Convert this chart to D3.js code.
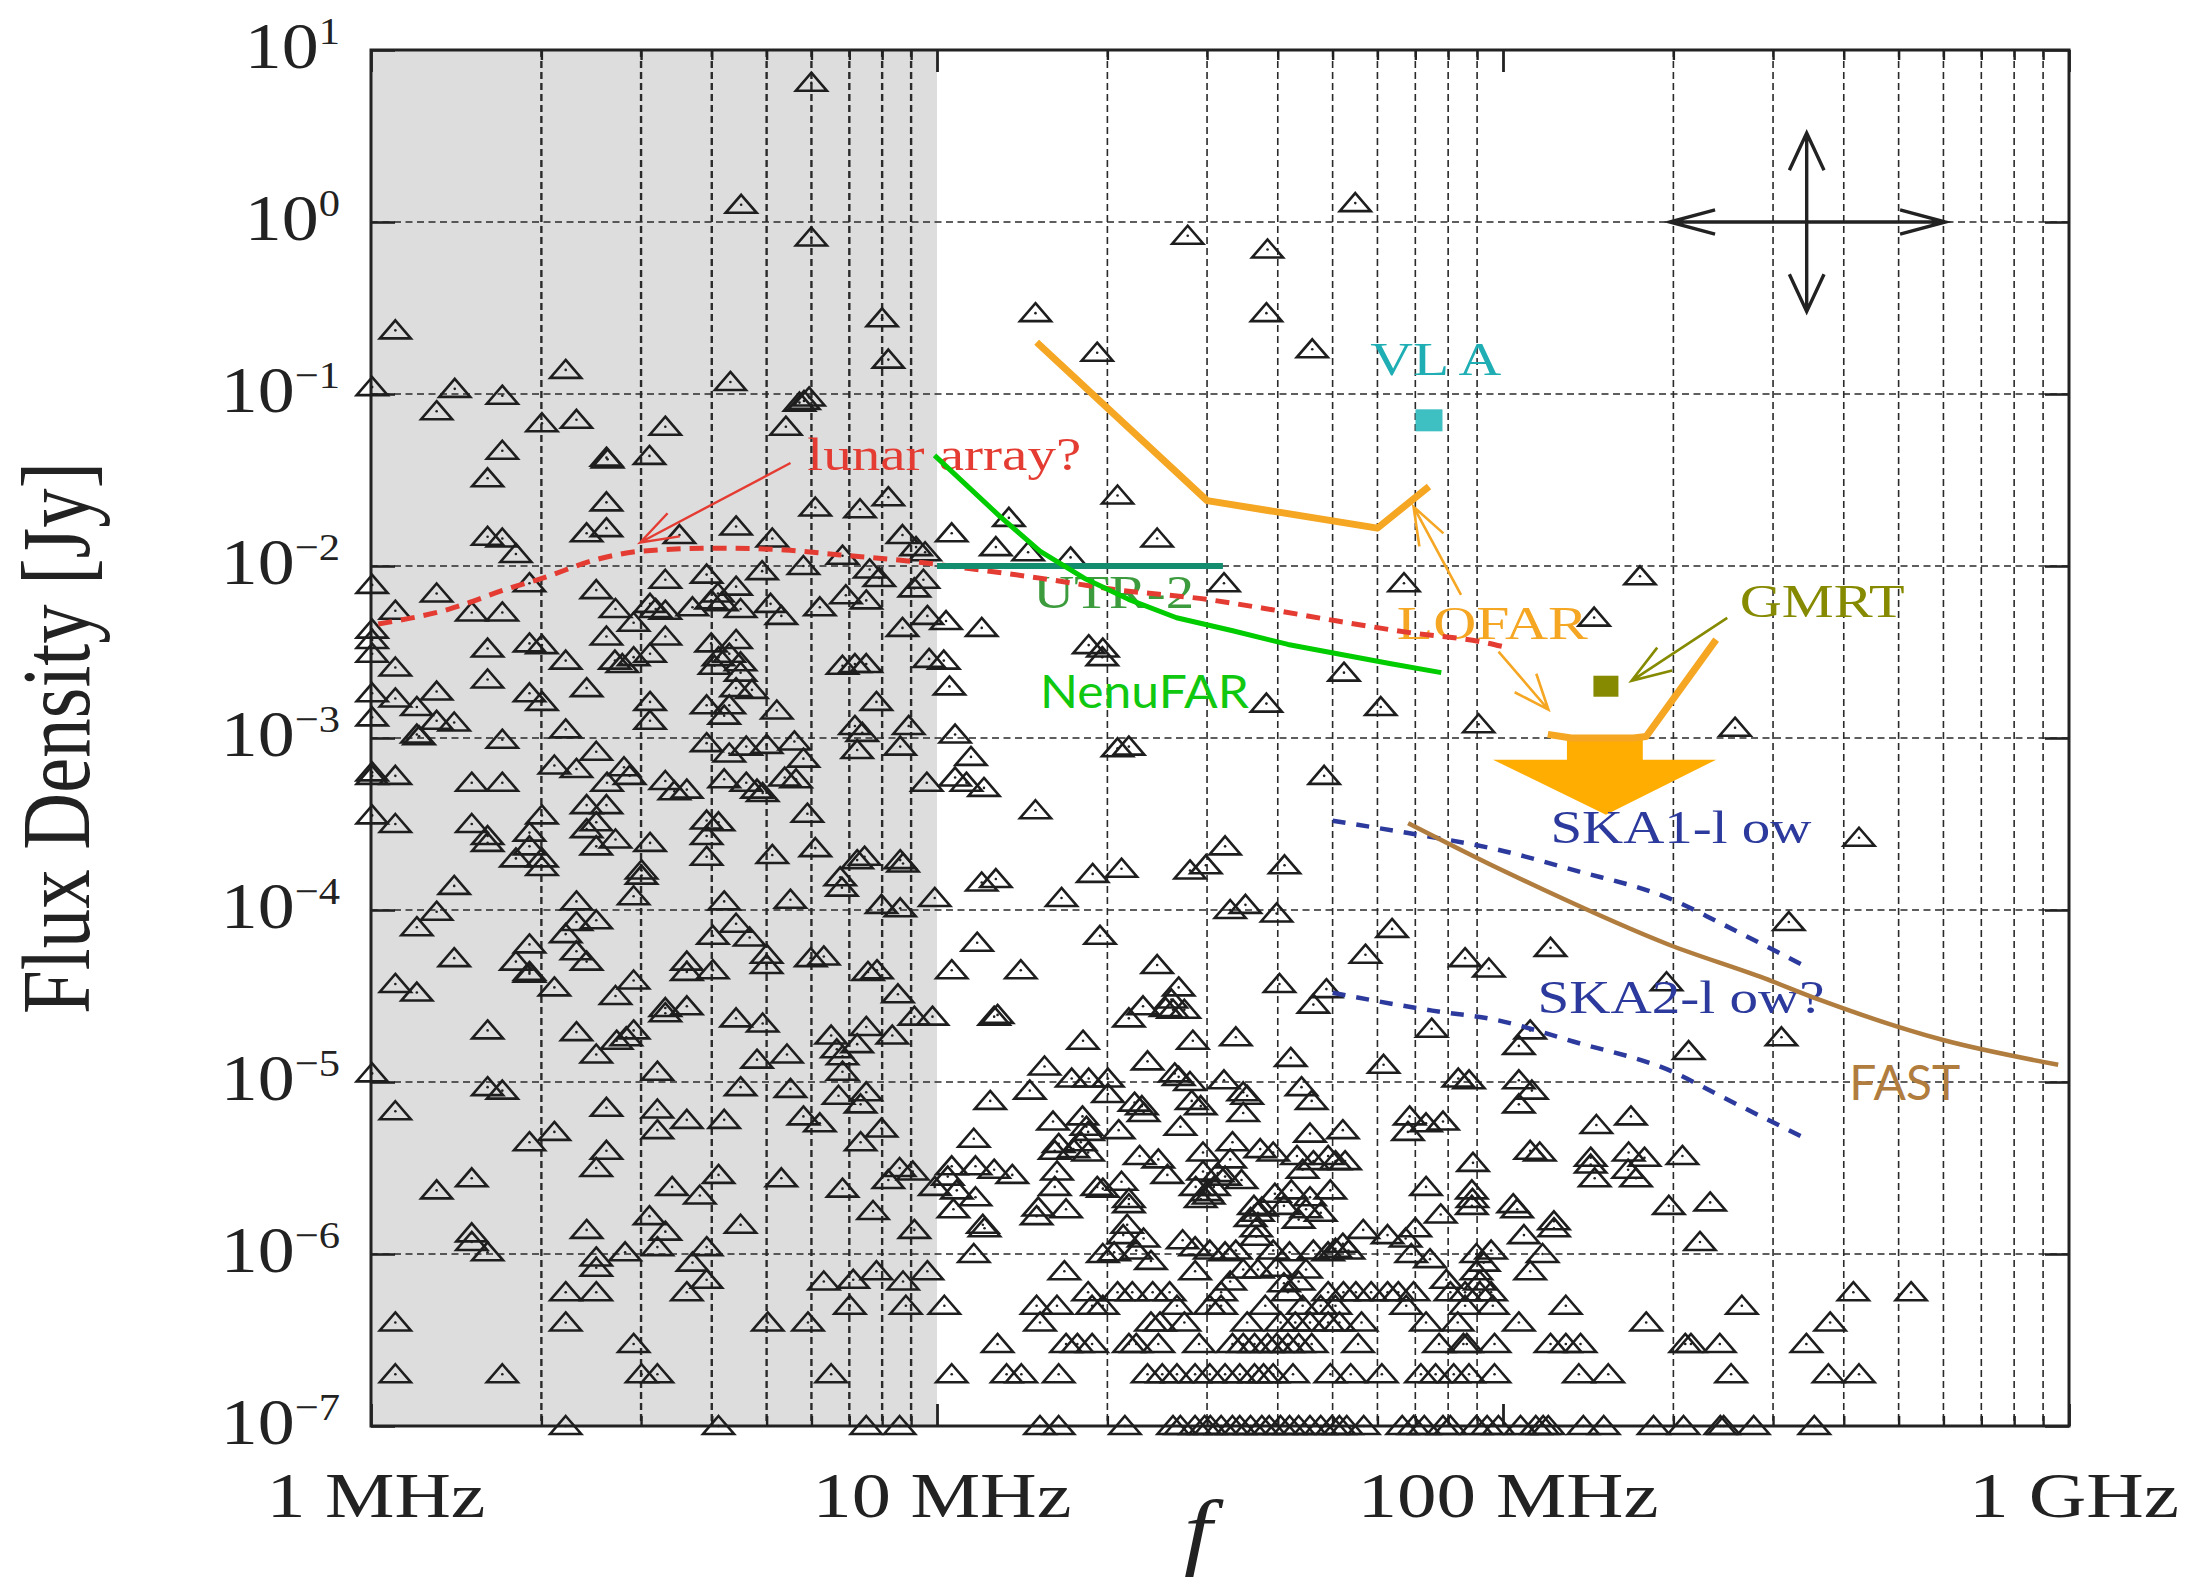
<!DOCTYPE html>
<html>
<head>
<meta charset="utf-8">
<title>Flux density vs frequency</title>
<script src="https://cdn.jsdelivr.net/npm/d3@7/dist/d3.min.js"></script>
<style>
  html, body { margin: 0; padding: 0; background: #fff; }
  svg { display: block; }
</style>
</head>
<body>
<svg id="chart" width="2194" height="1578"></svg>
<script>
// ---------------------------------------------------------------------------
// Source catalogue, each entry [log10(f / MHz), log10(S / Jy)]
// ---------------------------------------------------------------------------
const sourcesLowBand = [ // 1 - 10 MHz
  [0.778,0.81],[0.654,0.10],[0.778,-0.09],[0.043,-0.63],[0.903,-0.56],[0.914,-0.80],[0.344,-0.86],[0.002,-0.96],
  [0.148,-0.97],[0.232,-1.01],[0.116,-1.10],[0.635,-0.93],[0.757,-1.05],[0.774,-1.02],[0.765,-1.04],[0.733,-1.19],
  [0.302,-1.17],[0.363,-1.15],[0.520,-1.19],[0.232,-1.33],[0.206,-1.49],[0.416,-1.37],[0.418,-1.38],[0.492,-1.36],
  [0.416,-1.63],[0.785,-1.66],[0.864,-1.67],[0.914,-1.60],
  [0.206,-1.83],[0.232,-1.84],[0.256,-1.93],[0.381,-1.81],[0.416,-1.78],[0.545,-1.82],[0.645,-1.77],[0.709,-1.84],
  [0.939,-1.82],[0.963,-1.89],[0.979,-1.92],[0.764,-2.00],[0.833,-1.94],[0.881,-2.02],[0.898,-2.07],[0.691,-2.03],
  [0.593,-2.05],[0.520,-2.08],[0.280,-2.10],[0.116,-2.16],[0.002,-2.11],[0.043,-2.26],[0.178,-2.27],[0.232,-2.27],
  [0.398,-2.14],[0.432,-2.25],[0.493,-2.22],[0.503,-2.25],[0.520,-2.26],[0.464,-2.33],[0.568,-2.24],[0.613,-2.16],
  [0.645,-2.12],[0.620,-2.21],[0.653,-2.25],[0.601,-2.20],[0.706,-2.22],[0.725,-2.29],[0.793,-2.24],[0.839,-2.17],
  [0.875,-2.20],[0.960,-2.13],[0.976,-2.08],[0.983,-2.29],[0.939,-2.36],
  [0.002,-2.37],[0.002,-2.43],[0.002,-2.51],[0.043,-2.59],[0.206,-2.48],[0.280,-2.45],[0.302,-2.46],[0.344,-2.55],
  [0.416,-2.41],[0.520,-2.41],[0.493,-2.51],[0.431,-2.55],[0.444,-2.57],[0.464,-2.53],[0.601,-2.45],[0.645,-2.43],
  [0.614,-2.53],[0.633,-2.51],[0.653,-2.56],[0.607,-2.58],[0.653,-2.62],[0.833,-2.58],[0.855,-2.57],[0.875,-2.57],
  [0.986,-2.54],
  [0.002,-2.74],[0.043,-2.77],[0.081,-2.82],[0.116,-2.73],[0.116,-2.90],[0.147,-2.91],[0.081,-2.98],[0.085,-2.99],
  [0.002,-2.88],[0.206,-2.66],[0.280,-2.74],[0.302,-2.79],[0.381,-2.71],[0.344,-2.95],[0.232,-3.01],[0.493,-2.79],
  [0.493,-2.90],[0.593,-2.81],[0.633,-2.81],[0.624,-2.87],[0.645,-2.71],[0.673,-2.72],[0.717,-2.84],[0.893,-2.79],
  [0.855,-2.93],[0.868,-2.97],[0.950,-2.93],
  [0.593,-3.03],[0.633,-3.09],[0.663,-3.05],[0.699,-3.04],[0.748,-3.02],[0.764,-3.12],[0.859,-3.07],[0.935,-3.05],
  [0.002,-3.20],[0.002,-3.22],[0.043,-3.22],[0.178,-3.26],[0.232,-3.26],[0.324,-3.16],[0.363,-3.18],[0.398,-3.08],
  [0.447,-3.17],[0.457,-3.22],[0.417,-3.26],[0.520,-3.25],[0.536,-3.31],[0.558,-3.30],[0.624,-3.24],[0.663,-3.26],
  [0.692,-3.32],[0.682,-3.30],[0.731,-3.23],[0.751,-3.24],[0.982,-3.26],
  [0.002,-3.45],[0.043,-3.50],[0.178,-3.50],[0.206,-3.57],[0.206,-3.61],[0.302,-3.45],[0.280,-3.55],[0.280,-3.63],
  [0.256,-3.70],[0.302,-3.70],[0.302,-3.75],[0.381,-3.39],[0.416,-3.39],[0.398,-3.49],[0.381,-3.53],[0.432,-3.59],
  [0.398,-3.63],[0.493,-3.61],[0.478,-3.77],[0.478,-3.80],[0.464,-3.92],[0.593,-3.48],[0.614,-3.49],[0.593,-3.57],
  [0.593,-3.69],[0.709,-3.68],[0.771,-3.44],[0.785,-3.64],[0.859,-3.71],[0.872,-3.69],[0.829,-3.81],[0.832,-3.87],
  [0.935,-3.71],[0.940,-3.73],
  [0.147,-3.86],[0.116,-4.01],[0.081,-4.10],[0.363,-3.95],[0.363,-4.07],[0.398,-4.06],[0.344,-4.14],[0.363,-4.24],
  [0.381,-4.30],[0.280,-4.20],[0.256,-4.30],[0.280,-4.36],[0.147,-4.28],[0.624,-3.95],[0.645,-4.08],[0.604,-4.15],
  [0.669,-4.16],[0.699,-4.26],[0.699,-4.32],[0.558,-4.30],[0.558,-4.36],[0.604,-4.35],[0.741,-3.94],[0.902,-3.97],
  [0.935,-3.99],[0.996,-3.93],[0.777,-4.28],[0.800,-4.27],[0.878,-4.36],[0.894,-4.35],
  [0.043,-4.43],[0.081,-4.48],[0.280,-4.37],[0.324,-4.45],[0.464,-4.41],[0.432,-4.50],[0.520,-4.57],[0.520,-4.60],
  [0.558,-4.56],[0.645,-4.63],[0.692,-4.66],[0.931,-4.49],[0.960,-4.62],[0.992,-4.62],[0.206,-4.70],[0.363,-4.71],
  [0.398,-4.84],[0.434,-4.76],[0.451,-4.74],[0.464,-4.70],[0.506,-4.94],[0.682,-4.87],[0.735,-4.84],[0.813,-4.73],
  [0.823,-4.81],[0.833,-4.85],[0.833,-4.94],[0.859,-4.78],[0.875,-4.68],[0.921,-4.73],
  [0.002,-4.95],[0.206,-5.03],[0.232,-5.05],[0.043,-5.17],[0.653,-5.03],[0.741,-5.04],[0.826,-5.08],[0.865,-5.13],
  [0.875,-5.06],[0.416,-5.15],[0.506,-5.16],[0.506,-5.28],[0.558,-5.22],[0.624,-5.22],[0.764,-5.20],[0.793,-5.24],
  [0.902,-5.27],[0.280,-5.35],[0.324,-5.29],[0.416,-5.40],[0.398,-5.50],[0.865,-5.35],
  [0.116,-5.63],[0.178,-5.56],[0.532,-5.61],[0.581,-5.66],[0.614,-5.54],[0.725,-5.56],[0.833,-5.62],[0.914,-5.57],
  [0.934,-5.50],[0.957,-5.52],[0.996,-5.61],[0.887,-5.75],[0.492,-5.78],[0.520,-5.87],[0.506,-5.96],[0.381,-5.86],
  [0.653,-5.83],[0.960,-5.86],[0.178,-5.88],[0.178,-5.93],[0.206,-5.99],[0.449,-5.99],[0.398,-6.02],[0.398,-6.08],
  [0.593,-5.96],[0.568,-6.05],[0.593,-6.15],[0.800,-6.16],[0.852,-6.15],[0.893,-6.10],[0.940,-6.16],[0.983,-6.10]
];

const sourcesMidBand = [ // 10 - 100 MHz
  [1.739,0.11],[1.443,-0.08],[1.584,-0.16],[1.174,-0.53],[1.582,-0.53],[1.283,-0.76],[1.663,-0.74],[1.319,-1.59],
  [1.127,-1.72],[1.026,-1.81],[1.104,-1.89],[1.161,-1.92],[1.236,-1.95],[1.389,-1.84],[1.507,-2.10],[1.825,-2.10],
  [1.016,-2.32],[1.079,-2.36],[1.268,-2.46],[1.293,-2.48],[1.292,-2.53],[1.012,-2.55],[1.719,-2.62],[1.022,-2.70],
  [1.582,-2.80],[1.784,-2.82],[1.957,-2.92],[1.032,-2.98],[1.319,-3.06],[1.339,-3.05],[1.060,-3.11],[1.032,-3.23],
  [1.052,-3.26],[1.083,-3.29],[1.174,-3.42],[1.684,-3.22],[1.509,-3.63],[1.475,-3.74],[1.447,-3.77],[1.614,-3.74],
  [1.275,-3.79],[1.326,-3.76],[1.104,-3.82],[1.079,-3.84],[1.220,-3.93],[1.545,-3.97],[1.518,-4.00],[1.600,-4.02],
  [1.804,-4.11],[1.071,-4.19],[1.288,-4.15],[1.757,-4.26],[1.026,-4.35],[1.148,-4.35],[1.389,-4.32],[1.933,-4.28],
  [1.975,-4.34],
  [1.427,-4.45],[1.414,-4.52],[1.417,-4.58],[1.437,-4.58],[1.404,-4.57],[1.364,-4.56],[1.339,-4.63],[1.605,-4.43],
  [1.688,-4.46],[1.665,-4.55],[1.101,-4.62],[1.107,-4.61],[1.874,-4.69],[1.258,-4.76],[1.452,-4.76],[1.528,-4.74],
  [1.372,-4.88],[1.625,-4.86],[1.789,-4.90],[1.190,-4.91],[1.238,-4.98],[1.268,-4.98],[1.302,-4.98],[1.164,-5.05],
  [1.420,-4.95],[1.427,-4.97],[1.447,-5.00],[1.507,-4.99],[1.644,-5.03],[1.921,-4.98],[1.940,-4.99],[1.094,-5.11],
  [1.302,-5.07],[1.349,-5.12],[1.362,-5.14],[1.365,-5.18],[1.450,-5.11],[1.466,-5.14],[1.541,-5.06],[1.548,-5.08],
  [1.541,-5.18],[1.662,-5.11],[1.835,-5.20],[1.864,-5.24],[1.894,-5.23],[1.832,-5.29],[1.205,-5.23],[1.257,-5.20],
  [1.264,-5.26],[1.267,-5.29],[1.321,-5.28],[1.430,-5.26],[1.659,-5.30],[1.717,-5.28],[1.065,-5.33],[1.215,-5.36],
  [1.208,-5.40],[1.254,-5.35],[1.267,-5.41],[1.241,-5.39],[1.358,-5.43],[1.391,-5.45],[1.407,-5.54],
  [1.470,-5.41],[1.470,-5.52],[1.457,-5.61],[1.476,-5.64],[1.466,-5.68],[1.489,-5.61],[1.480,-5.66],
  [1.518,-5.45],[1.509,-5.55],[1.522,-5.35],[1.538,-5.57],[1.496,-5.53],[1.571,-5.39],[1.594,-5.41],[1.636,-5.43],
  [1.665,-5.46],[1.691,-5.43],[1.704,-5.46],[1.721,-5.46],[1.646,-5.51],[1.947,-5.47],
  [1.068,-5.49],[1.101,-5.51],[1.133,-5.54],[1.026,-5.49],[1.019,-5.55],[1.035,-5.63],[1.068,-5.67],[1.029,-5.74],
  [1.212,-5.52],[1.208,-5.61],[1.283,-5.61],[1.293,-5.62],[1.326,-5.58],[1.339,-5.71],[1.339,-5.68],[1.864,-5.61],
  [1.945,-5.63],[1.945,-5.72],[1.946,-5.68],[1.890,-5.77],
  [1.626,-5.63],[1.659,-5.67],[1.695,-5.63],[1.597,-5.65],[1.613,-5.72],[1.652,-5.74],[1.678,-5.76],[1.639,-5.80],
  [1.560,-5.72],[1.567,-5.76],[1.574,-5.73],[1.554,-5.79],[1.564,-5.85],[1.564,-5.90],
  [1.176,-5.78],[1.228,-5.74],[1.179,-5.73],[1.081,-5.83],[1.084,-5.85],[1.336,-5.83],[1.329,-5.89],[1.365,-5.91],
  [1.434,-5.92],[1.456,-5.96],[1.753,-5.86],[1.796,-5.89],[1.828,-5.91],[1.845,-5.85],[1.717,-5.94],[1.704,-5.97],
  [1.065,-6.00],[1.293,-6.00],[1.313,-5.99],[1.352,-5.98],[1.378,-6.04],[1.482,-5.98],[1.509,-5.99],[1.528,-5.98],
  [1.594,-5.98],[1.623,-5.99],[1.665,-5.98],[1.691,-5.99],[1.727,-5.98],[1.838,-6.00],[1.871,-6.03],[1.953,-6.00],
  [1.979,-5.98],[1.966,-6.05],
  [1.225,-6.10],[1.456,-6.10],[1.541,-6.09],[1.567,-6.09],[1.600,-6.08],[1.652,-6.09],[1.900,-6.15],[1.953,-6.10],
  [1.959,-6.16],[1.518,-6.16],[1.613,-6.17],[1.639,-6.16]
];

const sourcesHighBand = [ // 100 MHz - 1 GHz
  [2.242,-2.06],[2.161,-2.30],[2.410,-2.94],[2.629,-3.58],[2.505,-4.07],[2.084,-4.22],
  [2.289,-4.42],[2.048,-4.70],[2.028,-4.79],[2.328,-4.82],[2.492,-4.74],[2.028,-4.99],[2.051,-5.05],[2.028,-5.13],
  [2.165,-5.25],[2.226,-5.20],[2.048,-5.40],[2.065,-5.41],[2.155,-5.44],[2.155,-5.48],[2.162,-5.56],[2.222,-5.41],
  [2.250,-5.44],[2.221,-5.51],[2.235,-5.56],[2.317,-5.43],[2.293,-5.72],[2.366,-5.70],[2.018,-5.71],[2.025,-5.74],
  [2.090,-5.81],[2.090,-5.85],[2.037,-5.89],[2.348,-5.93],[2.070,-6.00],[2.048,-6.10]
];

// Faint sources sitting on the catalogue's rounded flux levels: log10 S and the log10 f of each source
const faintLevels = [-6.222, -6.301, -6.398, -6.523, -6.699, -7];
const faintFreqs = [
  [0.344,0.398,0.558,1.267,1.319,1.345,1.381,1.411,1.502,1.620,1.691,1.718,1.740,1.767,1.796,1.815,1.842,1.907,1.933,1.959,1.979,2.619,2.721],
  [0.846,0.945,1.013,1.176,1.212,1.274,1.293,1.424,1.482,1.502,1.580,1.646,1.678,1.704,1.829,1.933,1.982,2.111,2.422],
  [0.043,0.344,0.701,0.772,1.182,1.378,1.394,1.437,1.548,1.607,1.633,1.659,1.691,1.711,1.750,1.864,1.920,2.028,2.253,2.578],
  [0.464,1.107,1.228,1.248,1.274,1.339,1.352,1.391,1.463,1.522,1.541,1.561,1.584,1.600,1.620,1.639,1.662,1.744,1.887,1.930,1.936,1.985,2.084,2.111,2.137,2.322,2.332,2.383,2.536],
  [0.043,0.232,0.478,0.506,0.813,1.026,1.123,1.149,1.215,1.372,1.398,1.424,1.456,1.482,1.509,1.535,1.561,1.577,1.594,1.629,1.695,1.731,1.786,1.855,1.881,1.913,1.940,1.985,2.134,2.186,2.403,2.575,2.629],
  [0.344,0.614,0.875,0.934,1.182,1.215,1.332,1.417,1.430,1.456,1.473,1.483,1.502,1.522,1.535,1.554,1.574,1.587,1.607,1.623,1.639,1.659,1.678,1.698,1.711,1.724,1.754,1.822,1.842,1.861,1.894,1.907,1.953,1.972,1.992,2.031,2.058,2.071,2.080,2.142,2.178,2.266,2.319,2.384,2.390,2.443,2.550]
];

// ---------------------------------------------------------------------------
// Instrument sensitivities, [f / MHz, S / Jy]
// ---------------------------------------------------------------------------
const lunarArray = [[1.03,4.6e-3],[1.37,5.6e-3],[1.75,7.4e-3],[2.01,8.5e-3],[2.5,1.09e-2],[3.0,1.22e-2],[4.05,1.27e-2],
  [5.38,1.24e-2],[6.75,1.16e-2],[9.12,1.06e-2],[11.3,9.7e-3],[15.2,8.5e-3],[20.6,7.3e-3],[29.9,6.4e-3],[37.5,5.7e-3],
  [50.7,4.8e-3],[68.4,4.1e-3],[92.5,3.6e-3],[100,3.4e-3]];
const nenufar = [[9.9,0.044],[12.9,0.0195],[15.2,0.0122],[18.2,0.0085],[21.8,0.0064],[26.5,0.005],[33.3,0.0042],
  [41.7,0.0035],[50.7,0.0031],[63.4,0.0027],[77.8,0.0024]];
const utr2 = [[10,0.01],[32,0.01]];
const lofarLBA = [[15,0.2],[30,0.024],[60,0.0166],[74,0.029]];
const lofarHBA = [[120,1.05e-3],[132,1.0e-3],[170,1.0e-3],[179,1.02e-3],[238,3.73e-3]];
const ska1Low = [[50,3.3e-4],[68,2.8e-4],[98,2.24e-4],[133,1.71e-4],[199,1.15e-4],[242,8.4e-5],[342,4.7e-5]];
const ska2Low = [[50,3.3e-5],[75,2.6e-5],[97,2.3e-5],[133,1.72e-5],[199,1.15e-5],[242,8.3e-6],[342,4.7e-6]];
const fast = [[68,3.2e-4],[98,1.75e-4],[118,1.31e-4],[196,6.3e-5],[290,4.0e-5],[363,3.0e-5],[597,1.76e-5],[957,1.26e-5]];
const vla = [74, 0.0703];
const gmrt = [152, 2.0e-3];

// Axis ticks
const freqTicks = [1, 10, 100, 1000];
const freqTickLabels = ["1 MHz", "10 MHz", "100 MHz", "1 GHz"];
const fluxExponents = [1, 0, -1, -2, -3, -4, -5, -6, -7];

// ---------------------------------------------------------------------------
const SERIF = "'Liberation Serif','Times New Roman',serif";
const SANS = "Lato,'Open Sans','DejaVu Sans',sans-serif";
const INK = "#222";

const svg = d3.select("#chart");
const x = d3.scaleLog().domain([1, 1000]).range([371, 2069]);
const y = d3.scaleLog().domain([1e-7, 10]).range([1426, 50]);
const L = x.range()[0], R = x.range()[1], B = y.range()[0], T = y.range()[1];

// shaded band below 10 MHz
svg.append("rect").attr("x", x(1)).attr("y", T).attr("width", x(10) - x(1)).attr("height", B - T)
  .attr("fill", "#dddddd");

// dashed grid: minor frequency lines, every flux decade
const minorFreq = [];
[1, 10, 100].forEach(d => { for (let m = 2; m <= 9; m++) minorFreq.push(m * d); });
svg.append("g").selectAll("line").data(minorFreq).join("line")
  .attr("x1", d => x(d)).attr("x2", d => x(d)).attr("y1", T).attr("y2", B)
  .attr("stroke", "#2a2a2a").attr("stroke-width", d => d < 10 ? 2.4 : 1.6).attr("stroke-dasharray", "7,4");
svg.append("g").selectAll("line").data(d3.range(-6, 1).map(e => Math.pow(10, e))).join("line")
  .attr("x1", L).attr("x2", R).attr("y1", d => y(d)).attr("y2", d => y(d))
  .attr("stroke", "#2a2a2a").attr("stroke-width", 1.3).attr("stroke-dasharray", "7,4.5");

// inward ticks on all four sides
function styleAxis(g, w) {
  g.select(".domain").remove();
  g.selectAll(".tick line").attr("stroke", INK).attr("stroke-width", w);
  g.selectAll(".tick text").remove();
}
const fluxTicks = fluxExponents.map(e => Math.pow(10, e));
svg.append("g").attr("transform", `translate(0,${B})`)
  .call(d3.axisBottom(x).tickValues(freqTicks).tickSize(-22).tickSizeOuter(0)).call(g => styleAxis(g, 2.8));
svg.append("g").attr("transform", `translate(0,${B})`)
  .call(d3.axisBottom(x).tickValues(minorFreq).tickSize(-10).tickSizeOuter(0)).call(g => styleAxis(g, 2.4));
svg.append("g").attr("transform", `translate(0,${T})`)
  .call(d3.axisTop(x).tickValues(freqTicks).tickSize(-22).tickSizeOuter(0)).call(g => styleAxis(g, 2.8));
svg.append("g").attr("transform", `translate(0,${T})`)
  .call(d3.axisTop(x).tickValues(minorFreq).tickSize(-10).tickSizeOuter(0)).call(g => styleAxis(g, 2.4));
svg.append("g").attr("transform", `translate(${L},0)`)
  .call(d3.axisLeft(y).tickValues(fluxTicks).tickSize(-24).tickSizeOuter(0)).call(g => styleAxis(g, 2.6));
svg.append("g").attr("transform", `translate(${R},0)`)
  .call(d3.axisRight(y).tickValues(fluxTicks).tickSize(-24).tickSizeOuter(0)).call(g => styleAxis(g, 2.6));

// frame
svg.append("rect").attr("x", L).attr("y", T).attr("width", R - L).attr("height", B - T)
  .attr("fill", "none").attr("stroke", INK).attr("stroke-width", 3);

// sensitivity curves
const lin = d3.line().x(d => x(d[0])).y(d => y(d[1]));
const smooth = d3.line().x(d => x(d[0])).y(d => y(d[1])).curve(d3.curveMonotoneX);
const curves = svg.append("g").attr("fill", "none").attr("stroke-linejoin", "round");
curves.append("path").attr("d", smooth(lunarArray)).attr("stroke", "#e43c32").attr("stroke-width", 5)
  .attr("stroke-dasharray", "14,9");
curves.append("path").attr("d", lin(utr2)).attr("stroke", "#148c6e").attr("stroke-width", 6);
curves.append("path").attr("d", lin(nenufar)).attr("stroke", "#00cc00").attr("stroke-width", 5);
curves.append("path").attr("d", lin(lofarLBA)).attr("stroke", "#f5a623").attr("stroke-width", 7);
curves.append("path").attr("d", smooth(ska1Low)).attr("stroke", "#2b3a9c").attr("stroke-width", 4.5)
  .attr("stroke-dasharray", "13,11");
curves.append("path").attr("d", smooth(ska2Low)).attr("stroke", "#2b3a9c").attr("stroke-width", 4.5)
  .attr("stroke-dasharray", "13,11");
curves.append("path").attr("d", smooth(fast)).attr("stroke", "#b07d3f").attr("stroke-width", 4.5);

// big downward arrow (LOFAR HBA towards SKA)
const bigArrow = [[129.7,1e-3],[176.6,1e-3],[176.6,7.48e-4],[238,7.48e-4],[152,3.58e-4],[96,7.48e-4],[129.7,7.48e-4]];
svg.append("path").attr("d", lin(bigArrow) + "Z").attr("fill", "#ffad00");
curves.append("path").attr("d", lin(lofarHBA)).attr("stroke", "#f5a623").attr("stroke-width", 7);

// VLA and GMRT single points
[[vla, "#3ebfc2", 27, 22], [gmrt, "#868a00", 25, 21]].forEach(([p, c, w, h]) => {
  svg.append("rect").attr("x", x(p[0]) - w / 2).attr("y", y(p[1]) - h / 2).attr("width", w).attr("height", h)
    .attr("fill", c);
});

// catalogue sources: open triangles with a centre dot
const allSources = sourcesLowBand.concat(sourcesMidBand, sourcesHighBand,
  ...faintFreqs.map((fs, i) => fs.map(lf => [lf, faintLevels[i]])));
const pts = allSources.map(([lf, ls]) => [x(Math.pow(10, lf)), y(Math.pow(10, ls))]);
const tri = svg.append("g");
tri.selectAll("path").data(pts).join("path")
  .attr("transform", d => `translate(${d[0]},${d[1]})`)
  .attr("d", "M0,-10L15.5,8L-15.5,8Z")
  .attr("fill", "none").attr("stroke", "#1e1e1e").attr("stroke-width", 2.6).attr("stroke-linejoin", "miter");
tri.selectAll("circle").data(pts).join("circle")
  .attr("cx", d => d[0]).attr("cy", d => d[1]).attr("r", 1.3).attr("fill", "#1e1e1e");

// annotation arrows with open heads
function arrow(from, to, color, w, len, ang) {
  const ax = x(from[0]), ay = y(from[1]), bx = x(to[0]), by = y(to[1]);
  const a = Math.atan2(ay - by, ax - bx);
  const b1 = [bx + len * Math.cos(a + ang), by + len * Math.sin(a + ang)];
  const b2 = [bx + len * Math.cos(a - ang), by + len * Math.sin(a - ang)];
  svg.append("path").attr("d", `M${ax},${ay}L${bx},${by}M${b1}L${bx},${by}L${b2}`)
    .attr("fill", "none").attr("stroke", color).attr("stroke-width", w).attr("stroke-linecap", "butt");
}
const deg = Math.PI / 180;
arrow([5.51, 0.0397], [2.99, 0.0137], "#e43c32", 2.4, 40, 19 * deg);
arrow([84.3, 6.8e-3], [69.5, 0.0221], "#f5a623", 2.6, 40, 20 * deg);
arrow([98.2, 3.18e-3], [120.3, 1.46e-3], "#f5a623", 2.6, 38, 22 * deg);
arrow([249, 4.99e-3], [168.7, 2.15e-3], "#868a00", 2.6, 42, 19 * deg);
// double-headed cross in the upper right corner
arrow([344, 1], [197, 1], INK, 3.4, 47, 15 * deg);
arrow([344, 1], [605, 1], INK, 3.4, 47, 15 * deg);
arrow([344, 1], [344, 3.29], INK, 3.4, 41, 25 * deg);
arrow([344, 1], [344, 0.302], INK, 3.4, 41, 25 * deg);

// instrument labels (anchored at the left end of their baseline)
const labels = [
  { text: "lunar array?", f: 5.90, s: 0.0363, color: "#e43c32", font: SERIF, size: 46, len: 274 },
  { text: "VL A", f: 58.3, s: 0.1294, color: "#1eaeb4", font: SERIF, size: 46, len: 131 },
  { text: "UTR-2", f: 14.79, s: 5.71e-3, color: "#3c9b3c", font: SERIF, size: 46, len: 161 },
  { text: "NenuFAR", f: 15.2, s: 1.5e-3, color: "#11c811", font: SANS, size: 46, len: 209 },
  { text: "LOFAR", f: 64.9, s: 3.78e-3, color: "#f5a623", font: SERIF, size: 47, len: 191 },
  { text: "GMRT", f: 262, s: 5.07e-3, color: "#868a00", font: SERIF, size: 46, len: 165 },
  { text: "SKA1-l ow", f: 121.3, s: 2.46e-4, color: "#2b3a9c", font: SERIF, size: 46, len: 261 },
  { text: "SKA2-l ow?", f: 115.1, s: 2.53e-5, color: "#2b3a9c", font: SERIF, size: 46, len: 287 },
  { text: "FAST", f: 409, s: 7.9e-6, color: "#b07d3f", font: SANS, size: 48, len: 111 }
];
labels.forEach(l => {
  svg.append("text").attr("x", x(l.f)).attr("y", y(l.s)).attr("font-family", l.font)
    .attr("font-size", l.size).attr("fill", l.color)
    .attr("textLength", l.len).attr("lengthAdjust", "spacingAndGlyphs").text(l.text);
});
// the NenuFAR curve runs over the UTR-2 label
curves.raise();

// flux tick labels 10^n
fluxExponents.forEach(e => {
  const t = svg.append("text").attr("transform", `translate(340,${y(Math.pow(10, e)) + 18}) scale(1.12,1)`)
    .attr("text-anchor", "end").attr("font-family", SERIF).attr("fill", INK);
  t.append("tspan").attr("font-size", 66).text("10");
  t.append("tspan").attr("font-size", 38).attr("dy", -24).text(e < 0 ? "\u2212" + (-e) : String(e));
});

// frequency tick labels
const freqLabelLen = [219, 259, 301, 210];
freqTicks.forEach((v, i) => {
  svg.append("text").attr("x", x(v) + 5).attr("y", 1517).attr("text-anchor", "middle")
    .attr("font-family", SERIF).attr("font-size", 63).attr("fill", INK)
    .attr("textLength", freqLabelLen[i]).attr("lengthAdjust", "spacingAndGlyphs").text(freqTickLabels[i]);
});

// axis titles
svg.append("text").attr("transform", "translate(1198,1559) scale(1.2,1)").attr("text-anchor", "middle")
  .attr("font-family", SERIF).attr("font-style", "italic").attr("font-size", 84).attr("fill", INK).text("f");
svg.append("text").attr("transform", "translate(89,738) scale(1.22,1) rotate(-90)").attr("text-anchor", "middle")
  .attr("font-family", SERIF).attr("font-size", 79).attr("fill", INK)
  .attr("textLength", 552).attr("lengthAdjust", "spacingAndGlyphs").text("Flux Density [Jy]");
</script>
</body>
</html>
